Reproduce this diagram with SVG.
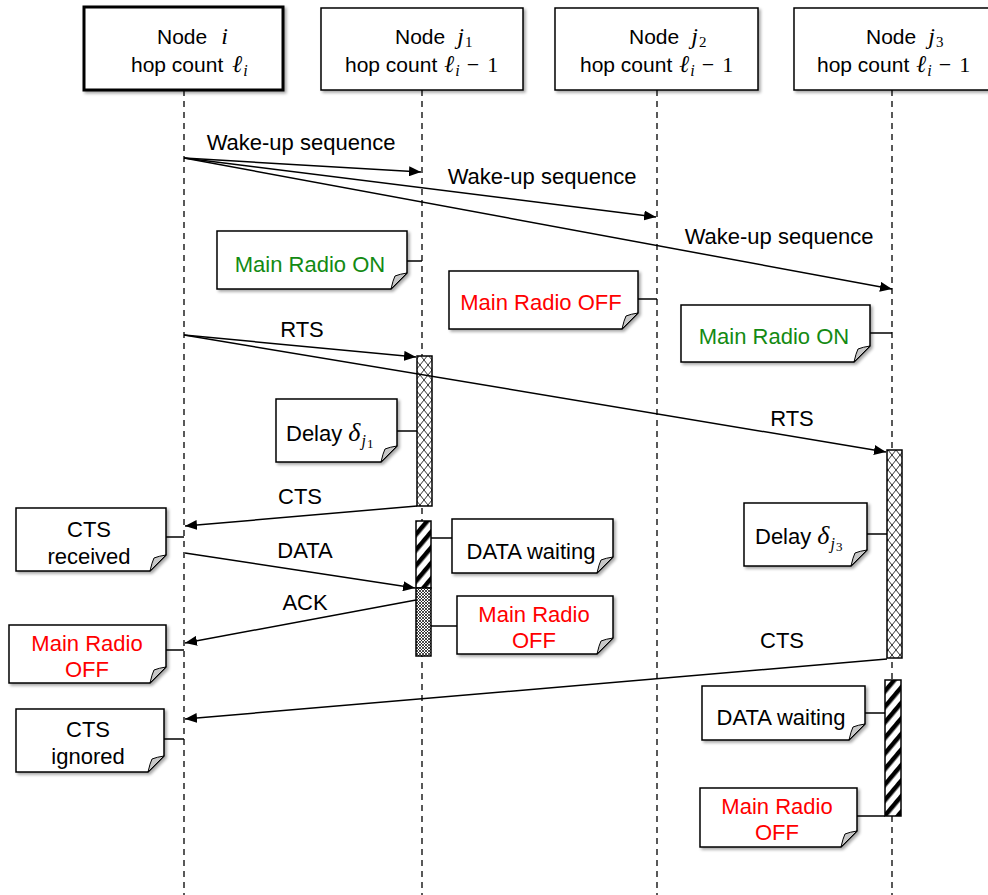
<svg xmlns="http://www.w3.org/2000/svg" width="988" height="895" viewBox="0 0 988 895">
<style>
.sans{font-family:"Liberation Sans",Arial,sans-serif;fill:#000}
.m{font-family:"Liberation Serif","Times New Roman",serif;font-style:italic}
.up{font-family:"Liberation Serif","Times New Roman",serif;font-style:normal}
.hdr{font-size:21px}
.lbl{font-size:22px}
.note{fill:#fff;stroke:#000;stroke-width:1.5}
.fold{fill:#c8c8c8;stroke:#000;stroke-width:1}
.life{stroke:#000;stroke-width:1.3;stroke-dasharray:6 5;fill:none}
.msg{stroke:#000;stroke-width:1.5;fill:none}
.link{stroke:#000;stroke-width:1.5;fill:none}
.green{fill:#138a13}
.red{fill:#ff0000}
</style>
<defs>
<marker id="ah" viewBox="0 0 12 10" refX="12" refY="5" markerWidth="12" markerHeight="10" markerUnits="userSpaceOnUse" orient="auto">
<path d="M0,0 L12,5 L0,10 Z" fill="#000"/>
</marker>
<pattern id="xh" width="8" height="10" patternUnits="userSpaceOnUse">
<rect width="8" height="10" fill="#fff"/>
<path d="M0,0 L8,10 M8,0 L0,10" stroke="#000" stroke-width="0.8"/>
</pattern>
<pattern id="stripe" width="10" height="10" patternUnits="userSpaceOnUse" patternTransform="rotate(40)">
<rect width="10" height="10" fill="#fff"/>
<rect width="4.5" height="10" fill="#000"/>
</pattern>
<pattern id="dense" width="3" height="3" patternUnits="userSpaceOnUse">
<rect width="3" height="3" fill="#fff"/>
<path d="M0,0 L3,3 M3,0 L0,3" stroke="#000" stroke-width="0.7"/>
</pattern>
<filter id="sh" x="-10%" y="-10%" width="130%" height="130%">
<feDropShadow dx="2" dy="2" stdDeviation="1.5" flood-color="#000" flood-opacity="0.35"/>
</filter>
</defs>

<!-- lifelines -->
<g id="lifelines">
<line class="life" x1="184" y1="90" x2="184" y2="895"/>
<line class="life" x1="422" y1="90" x2="422" y2="895"/>
<line class="life" x1="657" y1="90" x2="657" y2="895"/>
<line class="life" x1="892" y1="90" x2="892" y2="895"/>
</g>

<!-- header nodes -->
<g id="node-i">
<rect x="84" y="7" width="199" height="83" fill="#fff" stroke="#000" stroke-width="3" filter="url(#sh)"/>
<text class="sans hdr" x="157" y="44">Node<tspan class="m" font-size="24" dx="14">i</tspan></text>
<text class="sans hdr" x="131" y="72">hop count<tspan class="m" font-size="24" dx="9">ℓ</tspan><tspan class="m" font-size="16" dx="1" dy="4">i</tspan></text>
</g>
<g id="node-j1">
<rect x="321" y="8" width="202" height="82" fill="#fff" stroke="#000" stroke-width="1.5" filter="url(#sh)"/>
<text class="sans hdr" x="395" y="44">Node<tspan class="m" font-size="24" dx="12">j</tspan><tspan class="up" font-size="15" dx="1" dy="3">1</tspan></text>
<text class="sans hdr" x="345" y="72">hop count<tspan class="m" font-size="24" dx="7">ℓ</tspan><tspan class="m" font-size="16" dx="1" dy="4">i</tspan><tspan class="up" font-size="22" dx="7" dy="-4">−</tspan><tspan class="up" font-size="22" dx="8">1</tspan></text>
</g>
<g id="node-j2">
<rect x="555" y="8" width="203" height="82" fill="#fff" stroke="#000" stroke-width="1.5" filter="url(#sh)"/>
<text class="sans hdr" x="629" y="44">Node<tspan class="m" font-size="24" dx="12">j</tspan><tspan class="up" font-size="15" dx="1" dy="3">2</tspan></text>
<text class="sans hdr" x="580" y="72">hop count<tspan class="m" font-size="24" dx="7">ℓ</tspan><tspan class="m" font-size="16" dx="1" dy="4">i</tspan><tspan class="up" font-size="22" dx="7" dy="-4">−</tspan><tspan class="up" font-size="22" dx="8">1</tspan></text>
</g>
<g id="node-j3">
<rect x="794" y="8" width="206" height="82" fill="#fff" stroke="#000" stroke-width="1.5" filter="url(#sh)"/>
<text class="sans hdr" x="866" y="44">Node<tspan class="m" font-size="24" dx="12">j</tspan><tspan class="up" font-size="15" dx="1" dy="3">3</tspan></text>
<text class="sans hdr" x="817" y="72">hop count<tspan class="m" font-size="24" dx="7">ℓ</tspan><tspan class="m" font-size="16" dx="1" dy="4">i</tspan><tspan class="up" font-size="22" dx="7" dy="-4">−</tspan><tspan class="up" font-size="22" dx="8">1</tspan></text>
</g>

<!-- activation bars -->
<g id="act-j1-delay"><rect x="417" y="356" width="15" height="150" fill="url(#xh)" stroke="#000" stroke-width="1.5"/></g>
<g id="act-j1-wait"><rect x="416" y="521" width="15" height="67" fill="url(#stripe)" stroke="#000" stroke-width="1.5"/></g>
<g id="act-j1-off"><rect x="416" y="588" width="15" height="68" fill="url(#dense)" stroke="#000" stroke-width="1.5"/></g>
<g id="act-j3-delay"><rect x="887" y="450" width="15" height="208" fill="url(#xh)" stroke="#000" stroke-width="1.5"/></g>
<g id="act-j3-wait"><rect x="885" y="680" width="16" height="136" fill="url(#stripe)" stroke="#000" stroke-width="1.5"/></g>

<!-- connectors -->
<g id="connectors">
<line class="msg" x1="184" y1="158" x2="421" y2="172" marker-end="url(#ah)"/>
<line class="msg" x1="184" y1="158" x2="656" y2="217" marker-end="url(#ah)"/>
<line class="msg" x1="184" y1="158" x2="892" y2="289" marker-end="url(#ah)"/>
<line class="msg" x1="184" y1="335" x2="416" y2="357" marker-end="url(#ah)"/>
<line class="msg" x1="184" y1="335" x2="886" y2="452" marker-end="url(#ah)"/>
<line class="msg" x1="417" y1="506" x2="185" y2="526" marker-end="url(#ah)"/>
<line class="msg" x1="185" y1="553" x2="415" y2="588" marker-end="url(#ah)"/>
<line class="msg" x1="416" y1="600" x2="185" y2="643" marker-end="url(#ah)"/>
<line class="msg" x1="887" y1="659" x2="185" y2="719" marker-end="url(#ah)"/>
<!-- note links -->
<line class="link" x1="407" y1="261" x2="422" y2="261"/>
<line class="link" x1="638" y1="299" x2="657" y2="299"/>
<line class="link" x1="870" y1="333" x2="892" y2="333"/>
<line class="link" x1="397" y1="431" x2="417" y2="431"/>
<line class="link" x1="431" y1="538" x2="452" y2="538"/>
<line class="link" x1="431" y1="626" x2="457" y2="626"/>
<line class="link" x1="867" y1="534" x2="887" y2="534"/>
<line class="link" x1="865" y1="713" x2="885" y2="713"/>
<line class="link" x1="857" y1="816" x2="885" y2="816"/>
<line class="link" x1="166" y1="537" x2="184" y2="537"/>
<line class="link" x1="166" y1="650" x2="184" y2="650"/>
<line class="link" x1="164" y1="739" x2="184" y2="739"/>
</g>

<!-- message labels -->
<g id="labels" class="sans lbl" text-anchor="middle">
<text x="301" y="150">Wake-up sequence</text>
<text x="542" y="184">Wake-up sequence</text>
<text x="779" y="244">Wake-up sequence</text>
<text x="302" y="337">RTS</text>
<text x="792" y="426">RTS</text>
<text x="300" y="504">CTS</text>
<text x="305" y="558">DATA</text>
<text x="305" y="610">ACK</text>
<text x="782" y="648">CTS</text>
</g>

<!-- notes -->
<g id="note-j1-on">
<path class="note" filter="url(#sh)" d="M217,231 H407 V273 L391,289 H217 Z"/>
<path class="fold" d="M407,273 L391,289 Q393,280 395,276 Q400,274 407,273 Z"/>
<text class="sans lbl green" x="310" y="272" text-anchor="middle">Main Radio ON</text>
</g>
<g id="note-j2-off">
<path class="note" filter="url(#sh)" d="M449,271 H638 V313 L622,329 H449 Z"/>
<path class="fold" d="M638,313 L622,329 Q624,320 626,316 Q631,314 638,313 Z"/>
<text class="sans lbl red" x="541" y="310" text-anchor="middle">Main Radio OFF</text>
</g>
<g id="note-j3-on">
<path class="note" filter="url(#sh)" d="M681,305 H870 V346 L854,362 H681 Z"/>
<path class="fold" d="M870,346 L854,362 Q856,353 858,349 Q863,347 870,346 Z"/>
<text class="sans lbl green" x="774" y="344" text-anchor="middle">Main Radio ON</text>
</g>
<g id="note-j1-delay">
<path class="note" filter="url(#sh)" d="M276,399 H397 V446 L381,462 H276 Z"/>
<path class="fold" d="M397,446 L381,462 Q383,453 385,449 Q390,447 397,446 Z"/>
<text class="sans lbl" x="286" y="441">Delay <tspan class="m" font-size="26">δ</tspan><tspan class="m" font-size="16" dx="1" dy="5">j</tspan><tspan class="up" font-size="13" dx="1" dy="2">1</tspan></text>
</g>
<g id="note-j1-wait">
<path class="note" filter="url(#sh)" d="M452,519 H613 V557 L597,573 H452 Z"/>
<path class="fold" d="M613,557 L597,573 Q599,564 601,560 Q606,558 613,557 Z"/>
<text class="sans lbl" x="531" y="559" text-anchor="middle">DATA waiting</text>
</g>
<g id="note-j1-off">
<path class="note" filter="url(#sh)" d="M457,596 H613 V638 L597,654 H457 Z"/>
<path class="fold" d="M613,638 L597,654 Q599,645 601,641 Q606,639 613,638 Z"/>
<text class="sans lbl red" x="534" y="622" text-anchor="middle">Main Radio</text>
<text class="sans lbl red" x="534" y="648" text-anchor="middle">OFF</text>
</g>
<g id="note-j3-delay">
<path class="note" filter="url(#sh)" d="M744,503 H867 V550 L851,566 H744 Z"/>
<path class="fold" d="M867,550 L851,566 Q853,557 855,553 Q860,551 867,550 Z"/>
<text class="sans lbl" x="755" y="544">Delay <tspan class="m" font-size="26">δ</tspan><tspan class="m" font-size="16" dx="1" dy="5">j</tspan><tspan class="up" font-size="13" dx="1" dy="2">3</tspan></text>
</g>
<g id="note-j3-wait">
<path class="note" filter="url(#sh)" d="M702,686 H865 V724 L849,740 H702 Z"/>
<path class="fold" d="M865,724 L849,740 Q851,731 853,727 Q858,725 865,724 Z"/>
<text class="sans lbl" x="781" y="725" text-anchor="middle">DATA waiting</text>
</g>
<g id="note-j3-off">
<path class="note" filter="url(#sh)" d="M700,788 H857 V831 L841,847 H700 Z"/>
<path class="fold" d="M857,831 L841,847 Q843,838 845,834 Q850,832 857,831 Z"/>
<text class="sans lbl red" x="777" y="814" text-anchor="middle">Main Radio</text>
<text class="sans lbl red" x="777" y="840" text-anchor="middle">OFF</text>
</g>
<g id="note-i-cts-received">
<path class="note" filter="url(#sh)" d="M16,508 H166 V555 L150,571 H16 Z"/>
<path class="fold" d="M166,555 L150,571 Q152,562 154,558 Q159,556 166,555 Z"/>
<text class="sans lbl" x="89" y="537" text-anchor="middle">CTS</text>
<text class="sans lbl" x="89" y="564" text-anchor="middle">received</text>
</g>
<g id="note-i-off">
<path class="note" filter="url(#sh)" d="M9,625 H166 V667 L150,683 H9 Z"/>
<path class="fold" d="M166,667 L150,683 Q152,674 154,670 Q159,668 166,667 Z"/>
<text class="sans lbl red" x="87" y="651" text-anchor="middle">Main Radio</text>
<text class="sans lbl red" x="87" y="677" text-anchor="middle">OFF</text>
</g>
<g id="note-i-cts-ignored">
<path class="note" filter="url(#sh)" d="M16,709 H164 V756 L148,772 H16 Z"/>
<path class="fold" d="M164,756 L148,772 Q150,763 152,759 Q157,757 164,756 Z"/>
<text class="sans lbl" x="88" y="737" text-anchor="middle">CTS</text>
<text class="sans lbl" x="88" y="764" text-anchor="middle">ignored</text>
</g>
</svg>
